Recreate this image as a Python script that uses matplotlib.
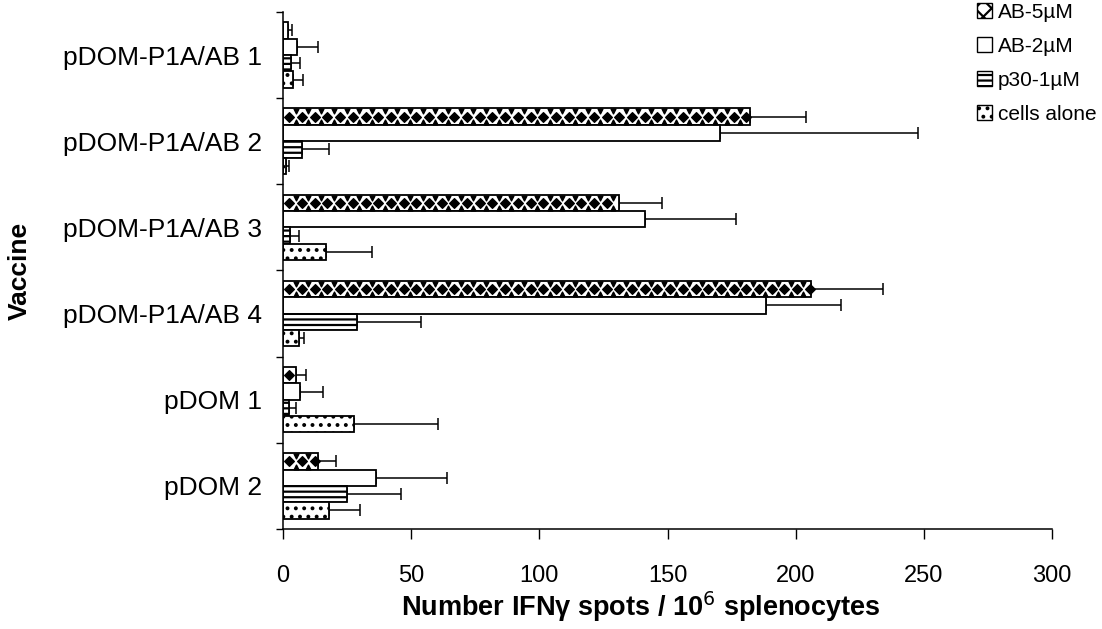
import numpy as np
import matplotlib
matplotlib.use('Agg')
import matplotlib.pyplot as plt
from matplotlib.patches import Patch

plt.rcParams['font.family'] = ['Liberation Sans', 'DejaVu Sans']
plt.rcParams['hatch.linewidth'] = 1.6

# data
vaccines = ['pDOM-P1A/AB 1', 'pDOM-P1A/AB 2', 'pDOM-P1A/AB 3',
            'pDOM-P1A/AB 4', 'pDOM 1', 'pDOM 2']
series = ['AB-5\u00b5M', 'AB-2\u00b5M', 'p30-1\u00b5M', 'cells alone']
ab5 = [2, 182, 131, 206, 5, 13.6]
ab5_err = [1.5, 22, 17, 28, 4, 7]
ab2 = [5.5, 170.5, 141, 188.5, 6.5, 36.4]
ab2_err = [8, 77, 35.5, 29, 9, 27.4]
p30 = [3, 7.4, 2.7, 28.8, 2.3, 25.1]
p30_err = [3.7, 10.6, 3.5, 25, 2.7, 21]
cells = [3.8, 1.2, 16.6, 6.1, 27.6, 18]
cells_err = [3.9, 1, 18, 2, 33, 12]

fig = plt.figure(figsize=(11.02, 6.29), dpi=100)
ax = fig.add_axes([0.2568, 0.159, 0.698, 0.822])

y = np.arange(len(vaccines))
h = 0.19
offsets = [-0.285, -0.095, 0.095, 0.285]
hatches = [None, None, '---', '..']
vals = [ab5, ab2, p30, cells]
errs = [ab5_err, ab2_err, p30_err, cells_err]

for off, v, e, hat in zip(offsets, vals, errs, hatches):
    ax.barh(y + off, v, height=h, color='white', edgecolor='black',
            linewidth=1.3, hatch=hat, zorder=2)
    ax.errorbar(v, y + off, xerr=[np.zeros(len(v)), e], fmt='none',
                ecolor='black', elinewidth=1.1, capsize=4, capthick=1.1,
                zorder=1)

# diamond fill for the AB-5uM bars
for yi, v in zip(y, ab5):
    xs = np.arange(2.5, v, 4.95)
    ax.scatter(xs, np.full(len(xs), yi + offsets[0]), marker='D', s=24,
               color='black', zorder=3)
    tri = xs[xs + 2.47 < v - 1] + 2.47
    ax.scatter(tri, np.full(len(tri), yi + offsets[0] - 0.06),
               marker='v', s=12, color='black', zorder=3)
    ax.scatter(tri, np.full(len(tri), yi + offsets[0] + 0.06),
               marker='^', s=12, color='black', zorder=3)

ax.set_xlim(0, 300)
ax.set_ylim(len(vaccines) - 0.5, -0.5)
ax.set_xticks(np.arange(0, 301, 50))
ax.set_yticks(y)
ax.set_yticklabels(vaccines)
ax.set_yticks(np.arange(-0.5, len(vaccines), 1), minor=True)
ax.tick_params(axis='y', which='major', length=0, pad=15, labelsize=19)
ax.tick_params(axis='y', which='minor', length=5, width=1)
ax.tick_params(axis='x', length=7, width=1, pad=19, labelsize=17)
for s in ['top', 'right']:
    ax.spines[s].set_visible(False)
ax.spines['left'].set_linewidth(1.1)
ax.spines['bottom'].set_linewidth(1.1)

ax.set_xlabel('Number IFN\u03b3 spots / 10$^6$ splenocytes', fontsize=19.5,
              fontweight='bold')
ax.xaxis.set_label_coords(0.465, -0.117)
fig.text(0.018, 0.569, 'Vaccine', rotation=90, fontsize=19,
         fontweight='bold', va='center', ha='center')

handles = [Patch(facecolor='white', edgecolor='black', hatch='xx'),
           Patch(facecolor='white', edgecolor='black'),
           Patch(facecolor='white', edgecolor='black', hatch='---'),
           Patch(facecolor='white', edgecolor='black', hatch='..')]
fig.legend(handles, series, loc='upper right', bbox_to_anchor=(1.012, 1.025),
           frameon=False, fontsize=15, handlelength=0.7, handleheight=0.7,
           handletextpad=0.3, labelspacing=0.72)

fig.savefig('out.png', dpi=100, facecolor='white')
